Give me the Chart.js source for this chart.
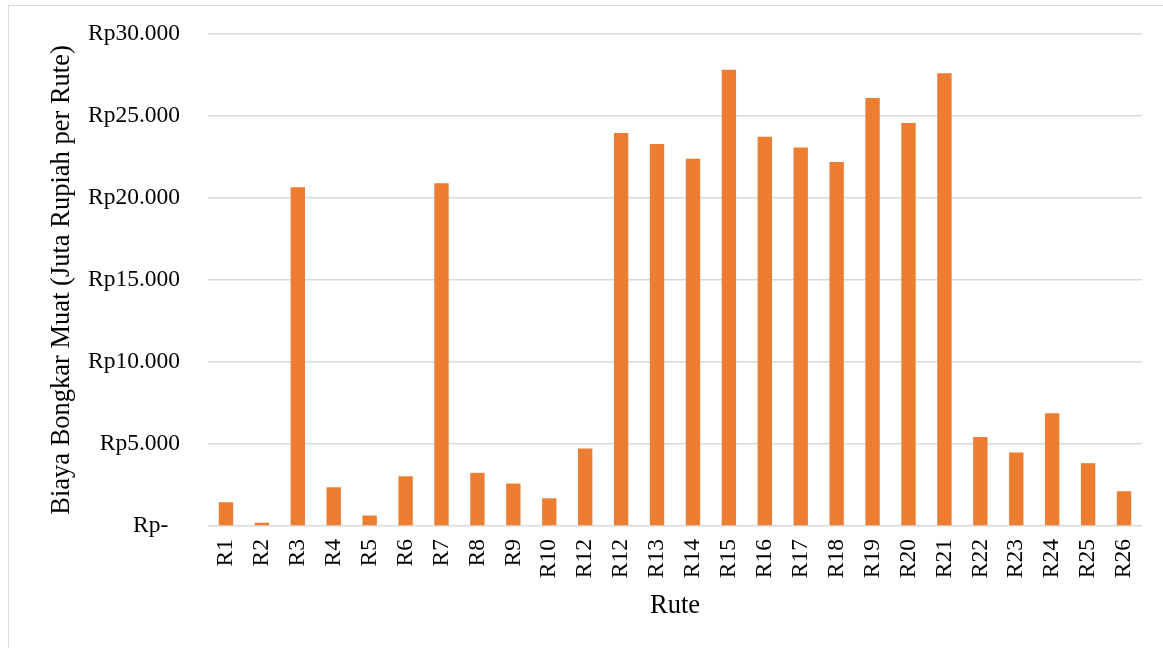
<!DOCTYPE html>
<html>
<head>
<meta charset="utf-8">
<script src="https://cdn.jsdelivr.net/npm/chart.js@4"></script>
<style>
  html, body { margin: 0; padding: 0; background: #fff; }
  #wrap { position: relative; width: 1163px; height: 648px; overflow: hidden; }
  #frame { position: absolute; left: 8px; top: 5px; width: 1200px; height: 700px; border: 1px solid #d9d9d9; box-sizing: border-box; }
  canvas { position: absolute; left: 0; top: 0; }
</style>
</head>
<body>
<div id="wrap">
  <div id="frame"></div>
  <canvas id="chart" width="1163" height="648"></canvas>
</div>
<script>
const routes = ['R1','R2','R3','R4','R5','R6','R7','R8','R9','R10','R12','R12','R13','R14','R15','R16','R17','R18','R19','R20','R21','R22','R23','R24','R25','R26'];
const costs = [1450, 200, 20660, 2360, 640, 3030, 20900, 3240, 2590, 1690, 4730, 23960, 23300, 22390, 27820, 23730, 23080, 22190, 26090, 24570, 27600, 5420, 4480, 6880, 3830, 2120];
const yTicks = [0, 5000, 10000, 15000, 20000, 25000, 30000];

const serif = 'Liberation Serif';

function rupiah(v) {
    if (v === 0) return 'Rp-  ';
    return 'Rp' + v.toString().replace(/\B(?=(\d{3})+(?!\d))/g, '.');
}

const ctx = document.getElementById('chart').getContext('2d');
new Chart(ctx, {
    type: 'bar',
    data: {
        labels: routes,
        datasets: [{
            label: 'Biaya Bongkar Muat',
            data: costs,
            backgroundColor: '#ED7D31',
            barPercentage: 0.4,
            categoryPercentage: 1.0
        }]
    },
    options: {
        responsive: false,
        animation: false,
        layout: { padding: { left: 46, right: 21, top: 34, bottom: 26 } },
        plugins: { legend: { display: false }, tooltip: { enabled: false } },
        scales: {
            x: {
                grid: { display: false },
                border: { display: false },
                ticks: {
                    color: '#000',
                    font: { family: serif, size: 23.5 },
                    minRotation: 90,
                    maxRotation: 90,
                    padding: 5
                },
                title: {
                    display: true,
                    text: 'Rute',
                    color: '#000',
                    font: { family: serif, size: 26.5 },
                    padding: 0
                },
                afterFit: s => { s.height = 96; }
            },
            y: {
                min: 0,
                max: 30000,
                afterBuildTicks: s => { s.ticks = yTicks.map(v => ({ value: v })); },
                // transparent tick marks give the label gap without padding the chart top
                grid: { color: '#d9d9d9', lineWidth: 1.5, drawTicks: true, tickLength: 28, tickColor: 'rgba(0,0,0,0)' },
                border: { display: false },
                ticks: {
                    color: '#000',
                    font: { family: serif, size: 23.5 },
                    padding: 0,
                    callback: v => rupiah(v)
                },
                title: {
                    display: true,
                    text: 'Biaya Bongkar Muat (Juta Rupiah per Rute)',
                    color: '#000',
                    font: { family: serif, size: 26.5 },
                    padding: 0
                },
                afterFit: s => { s.width = 162; }
            }
        }
    }
});
</script>
</body>
</html>
